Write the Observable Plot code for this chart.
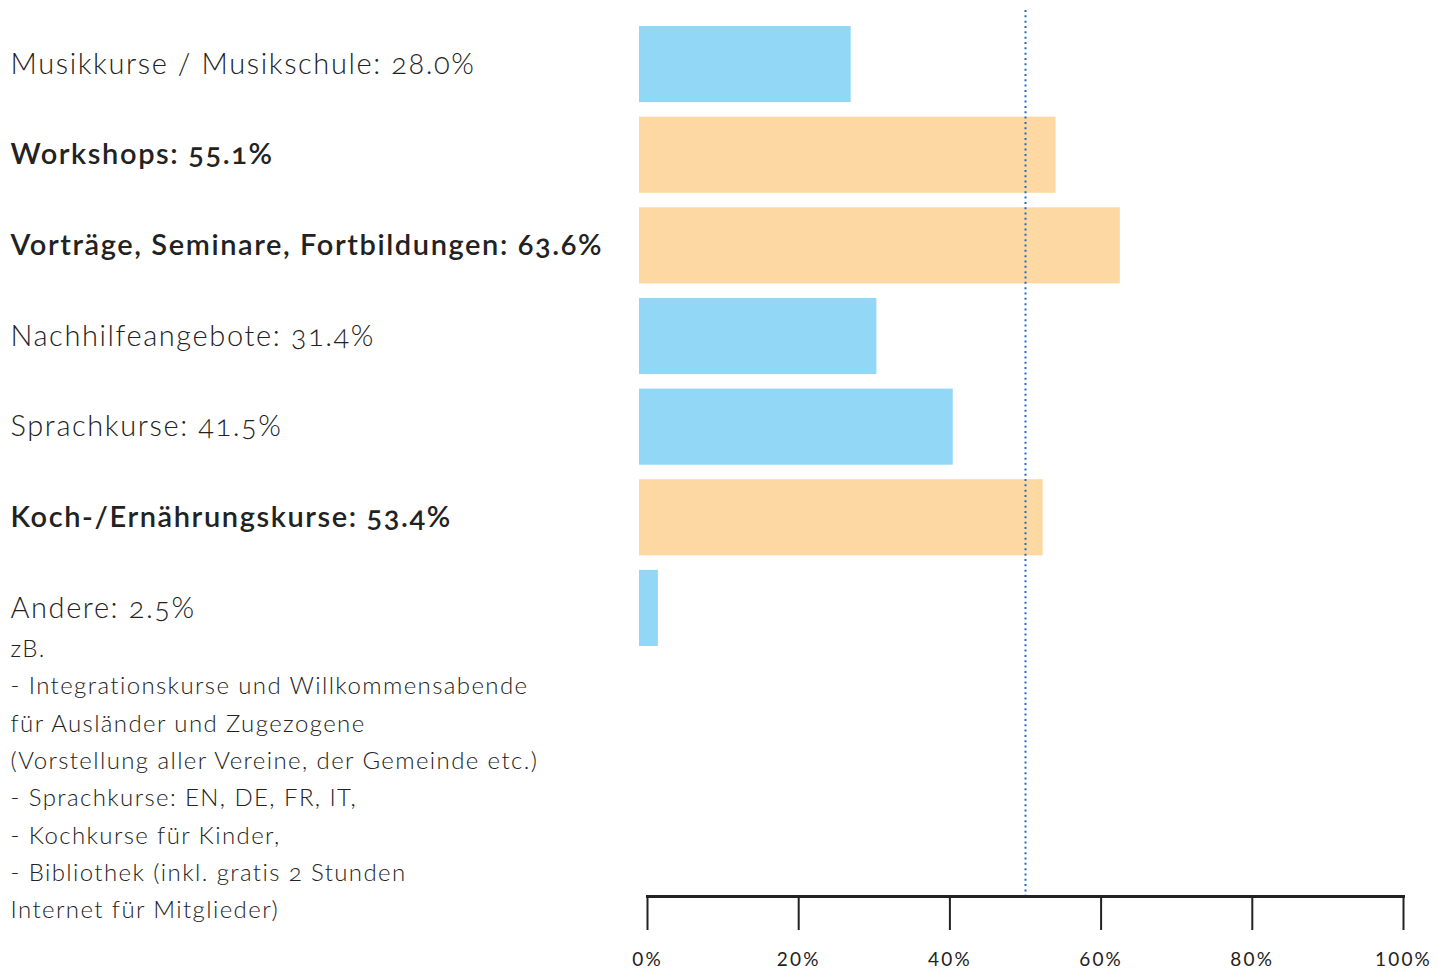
<!DOCTYPE html>
<html>
<head>
<meta charset="utf-8">
<script src="https://cdn.jsdelivr.net/npm/d3@7"></script>
<script src="https://cdn.jsdelivr.net/npm/@observablehq/plot@0.6"></script>
<style>
  html, body { margin: 0; padding: 0; background: #fff; }
  #chart svg { display: block; }
  .lbl text { font-variant-numeric: oldstyle-nums; font-feature-settings: "onum" 1; letter-spacing: 1.6px; }
  .note text { font-variant-numeric: oldstyle-nums; font-feature-settings: "onum" 1; letter-spacing: 1.4px; }
  .ax text { letter-spacing: 2.2px; }
</style>
</head>
<body>
<div id="chart"></div>
<script>
// ---- data ----
const categories = [
  "Musikkurse / Musikschule",
  "Workshops",
  "Vorträge, Seminare, Fortbildungen",
  "Nachhilfeangebote",
  "Sprachkurse",
  "Koch-/Ernährungskurse",
  "Andere"
];
const values = [28.0, 55.1, 63.6, 31.4, 41.5, 53.4, 2.5];
const tickValues = [0, 20, 40, 60, 80, 100];
const referenceLine = [50];
const noteLines = [
  "zB.",
  "- Integrationskurse und Willkommensabende",
  "für Ausländer und Zugezogene",
  "(Vorstellung aller Vereine, der Gemeinde etc.)",
  "- Sprachkurse: EN, DE, FR, IT,",
  "- Kochkurse für Kinder,",
  "- Bibliothek (inkl. gratis 2 Stunden",
  "Internet für Mitglieder)"
];

// ---- derived table ----
const rows = categories.map((c, i) => ({label: c, value: values[i]}));
const above = d => d.value > referenceLine[0];
const BLUE = "#92d7f5", ORANGE = "#fed8a3", INK = "#222";
const FONT = "Lato, 'Open Sans', sans-serif";
const labelShift = -637; // from plot left edge to page text column

const chart = Plot.plot({
  width: 1447,
  height: 968,
  marginLeft: 647,
  marginRight: 44,
  marginTop: 10,
  marginBottom: 72,
  style: {fontFamily: FONT, color: INK, background: "#fff"},
  x: {domain: [0, 100], axis: null},
  y: {domain: categories, range: [11.5, 660.5], padding: 0.16, round: false, axis: null},
  marks: [
    Plot.barX(rows, {x: "value", y: "label", dx: -8, fill: d => above(d) ? ORANGE : BLUE}),
    Plot.ruleX(referenceLine, {stroke: "#1a6fc0", strokeWidth: 2, strokeDasharray: "2,3.33"}),
    Plot.frame({anchor: "bottom", stroke: INK, strokeWidth: 3}),
    Plot.axisX({
      ticks: tickValues, tickSize: 34, tickPadding: 22,
      tickFormat: d => d + "%", fontSize: 19, strokeWidth: 2,
      fontFamily: FONT, label: null, className: "ax"
    }),
    Plot.text(rows.filter(d => !above(d)), {
      y: "label", text: d => `${d.label}: ${d.value.toFixed(1)}%`,
      frameAnchor: "left", textAnchor: "start", dx: labelShift,
      fontSize: 29, fontWeight: 300, fill: INK, className: "lbl"
    }),
    Plot.text(rows.filter(above), {
      y: "label", text: d => `${d.label}: ${d.value.toFixed(1)}%`,
      frameAnchor: "left", textAnchor: "start", dx: labelShift,
      fontSize: 29, fontWeight: 600, fill: INK, className: "lbl"
    }),
    Plot.text([noteLines.join("\n")], {
      y: () => categories[categories.length - 1], text: d => d,
      frameAnchor: "left", textAnchor: "start", lineAnchor: "top",
      dx: labelShift, dy: 22, lineHeight: 1.555,
      fontSize: 24, fontWeight: 300, fill: INK, className: "note"
    })
  ]
});
document.getElementById("chart").append(chart);
</script>
</body>
</html>
